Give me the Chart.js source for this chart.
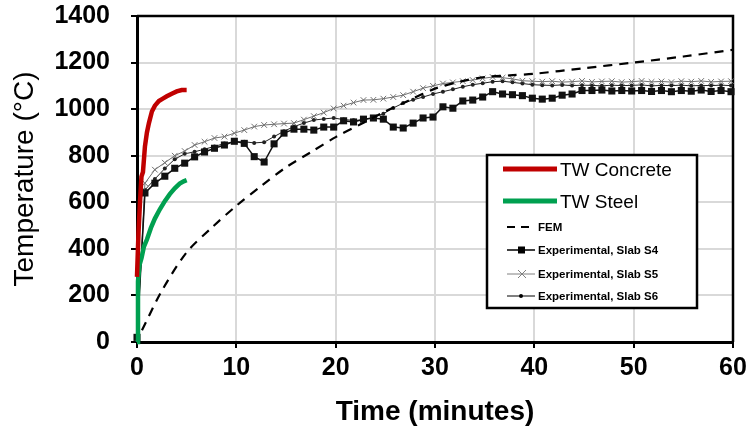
<!DOCTYPE html>
<html>
<head>
<meta charset="utf-8">
<script src="https://cdn.jsdelivr.net/npm/chart.js@4.4.1/dist/chart.umd.min.js"></script>
<style>
  html, body { margin: 0; padding: 0; background: #fff; }
</style>
</head>
<body>
<canvas id="tempChart" width="747" height="429"></canvas>
<script>
// TW curves (minutes, degC)
const concreteTime = [0, 0.15, 0.3, 0.45, 0.6, 0.8, 1.0, 1.2, 1.5, 1.8, 2.2, 2.6, 3.0, 3.5, 4.0, 4.5, 5.0];
const concreteTemp = [280, 470, 600, 710, 730, 840, 900, 940, 990, 1015, 1035, 1045, 1055, 1066, 1076, 1082, 1082];

const steelTime = [0, 0.1, 0.25, 0.45, 0.7, 1.0, 1.4, 1.8, 2.3, 2.8, 3.3, 3.8, 4.3, 4.7, 5.0];
const steelTemp = [0, 260, 330, 360, 410, 440, 490, 530, 570, 605, 635, 660, 680, 690, 695];

// FEM
const femTime = [0.5, 2.5, 5, 7.5, 10, 12.5, 15, 17.5, 20, 22.5, 25, 27.5, 30, 32.5, 35, 37.5, 40, 45, 50, 55, 60];
const femTemp = [50, 220, 385, 490, 585, 670, 750, 815, 880, 935, 990, 1040, 1088, 1118, 1138, 1145, 1152, 1176, 1200, 1226, 1255];

// Experimental slabs, one reading per minute
const expTime = [0, 0.8, 1.8, 2.8, 3.8, 4.8, 5.8, 6.8, 7.8, 8.8, 9.8, 10.8, 11.8, 12.8, 13.8, 14.8, 15.8, 16.8, 17.8, 18.8, 19.8,
  20.8, 21.8, 22.8, 23.8, 24.8, 25.8, 26.8, 27.8, 28.8, 29.8, 30.8, 31.8, 32.8, 33.8, 34.8, 35.8, 36.8, 37.8, 38.8, 39.8,
  40.8, 41.8, 42.8, 43.8, 44.8, 45.8, 46.8, 47.8, 48.8, 49.8, 50.8, 51.8, 52.8, 53.8, 54.8, 55.8, 56.8, 57.8, 58.8, 59.8];

const slabS4 = [20, 640, 682, 712, 746, 768, 795, 816, 832, 846, 862, 853, 796, 773, 851, 897, 914, 914, 910, 923, 923,
  950, 945, 957, 962, 957, 923, 919, 940, 962, 966, 1010, 1004, 1035, 1039, 1052, 1075, 1065, 1062, 1058, 1047,
  1043, 1047, 1060, 1065, 1080, 1080, 1082, 1078, 1080, 1078, 1080, 1076, 1080, 1075, 1080, 1077, 1082, 1076, 1080, 1075];

const slabS5 = [20, 682, 740, 770, 800, 820, 846, 860, 876, 882, 897, 910, 925, 932, 935, 938, 940, 955, 970, 985, 1003,
  1015, 1028, 1039, 1040, 1045, 1052, 1060, 1075, 1090, 1100, 1110, 1115, 1120, 1125, 1132, 1138, 1135, 1130, 1122, 1120,
  1118, 1120, 1116, 1118, 1121, 1117, 1119, 1120, 1116, 1118, 1121, 1117, 1119, 1116, 1120, 1118, 1121, 1117, 1119, 1120];

const slabS6 = [20, 653, 700, 745, 785, 808, 817, 828, 840, 852, 860, 860, 855, 858, 882, 905, 925, 940, 953, 958, 962,
  955, 952, 953, 965, 980, 1005, 1026, 1040, 1052, 1065, 1075, 1085, 1096, 1105, 1111, 1118, 1120, 1115, 1110, 1105,
  1103, 1102, 1104, 1101, 1103, 1102, 1100, 1103, 1101, 1102, 1104, 1100, 1102, 1101, 1103, 1100, 1102, 1101, 1103, 1101];

const xTicks = [0, 10, 20, 30, 40, 50, 60];
const yTicks = [0, 200, 400, 600, 800, 1000, 1200, 1400];

function pts(xs, ys) {
    return xs.map((x, i) => ({ x: x, y: ys[i] }));
}

// frame on top and right of the plot
const frame = {
    id: 'frame',
    beforeDatasetsDraw(chart) {
        const { ctx, chartArea: a } = chart;
        ctx.save();
        ctx.strokeStyle = '#000';
        ctx.lineWidth = 2.5;
        ctx.beginPath();
        ctx.moveTo(a.left, a.top);
        ctx.lineTo(a.right, a.top);
        ctx.lineTo(a.right, a.bottom);
        ctx.stroke();
        ctx.restore();
    }
};

// legend box drawn inside the plot
const legendBox = {
    id: 'legendBox',
    afterDraw(chart) {
        const ctx = chart.ctx;
        ctx.save();
        ctx.fillStyle = '#fff';
        ctx.fillRect(487, 155, 210, 153);
        ctx.strokeStyle = '#000';
        ctx.lineWidth = 2.5;
        ctx.strokeRect(487, 155, 210, 153);

        ctx.textBaseline = 'middle';
        ctx.fillStyle = '#000';

        // TW entries
        ctx.lineWidth = 5;
        ctx.strokeStyle = '#c00000';
        ctx.beginPath(); ctx.moveTo(503, 169); ctx.lineTo(557, 169); ctx.stroke();
        ctx.strokeStyle = '#00a050';
        ctx.beginPath(); ctx.moveTo(503, 201); ctx.lineTo(557, 201); ctx.stroke();
        ctx.font = '19px "Liberation Sans", Arial, sans-serif';
        ctx.fillText('TW Concrete', 560, 171);
        ctx.fillText('TW Steel', 560, 203);

        // small entries
        ctx.font = 'bold 11.5px "Liberation Sans", Arial, sans-serif';
        ctx.lineWidth = 2;
        ctx.strokeStyle = '#000';
        ctx.setLineDash([8, 6]);
        ctx.beginPath(); ctx.moveTo(507, 227); ctx.lineTo(535, 227); ctx.stroke();
        ctx.setLineDash([]);
        ctx.fillText('FEM', 538, 228);

        ctx.lineWidth = 1.5;
        ctx.beginPath(); ctx.moveTo(507, 250); ctx.lineTo(535, 250); ctx.stroke();
        ctx.fillRect(518, 246.5, 7, 7);
        ctx.fillText('Experimental, Slab S4', 538, 251);

        ctx.strokeStyle = '#808080';
        ctx.lineWidth = 1;
        ctx.beginPath(); ctx.moveTo(507, 274); ctx.lineTo(535, 274); ctx.stroke();
        ctx.beginPath();
        ctx.moveTo(518, 270); ctx.lineTo(526, 278);
        ctx.moveTo(526, 270); ctx.lineTo(518, 278);
        ctx.stroke();
        ctx.fillText('Experimental, Slab S5', 538, 275);

        ctx.strokeStyle = '#000';
        ctx.beginPath(); ctx.moveTo(507, 296); ctx.lineTo(535, 296); ctx.stroke();
        ctx.beginPath(); ctx.arc(521, 296, 2, 0, Math.PI * 2); ctx.fill();
        ctx.fillText('Experimental, Slab S6', 538, 297);
        ctx.restore();
    }
};

const tickFont = { family: '"Liberation Sans", Arial, sans-serif', size: 25, weight: 'bold' };

const tempChart = new Chart(document.getElementById('tempChart'), {
    type: 'line',
    data: {
        datasets: [
            {
                label: 'TW Concrete',
                data: pts(concreteTime, concreteTemp),
                borderColor: '#c00000',
                borderWidth: 4.5,
                pointRadius: 0,
                clip: false
            },
            {
                label: 'TW Steel',
                data: pts(steelTime, steelTemp),
                borderColor: '#00a050',
                borderWidth: 4.5,
                pointRadius: 0,
                clip: false
            },
            {
                label: 'FEM',
                data: pts(femTime, femTemp),
                borderColor: '#000',
                borderWidth: 2.2,
                borderDash: [9, 7],
                pointRadius: 0,
                tension: 0.3
            },
            {
                label: 'Experimental, Slab S4',
                data: pts(expTime, slabS4),
                borderColor: '#111',
                borderWidth: 1.5,
                pointStyle: 'rect',
                pointRadius: 5,
                pointBackgroundColor: '#111',
                pointBorderColor: '#111',
                pointBorderWidth: 0,
                clip: false
            },
            {
                label: 'Experimental, Slab S5',
                data: pts(expTime, slabS5),
                borderColor: '#707070',
                borderWidth: 1,
                pointStyle: 'crossRot',
                pointRadius: 4,
                pointBorderColor: '#707070',
                pointBorderWidth: 1,
                clip: false
            },
            {
                label: 'Experimental, Slab S6',
                data: pts(expTime, slabS6),
                borderColor: '#222',
                borderWidth: 1,
                pointStyle: 'circle',
                pointRadius: 2,
                pointBackgroundColor: '#222',
                pointBorderWidth: 0,
                clip: false
            }
        ]
    },
    options: {
        responsive: false,
        animation: false,
        layout: { padding: { top: 16, right: 14, left: 0, bottom: 0 } },
        plugins: { legend: { display: false }, tooltip: { enabled: false } },
        scales: {
            x: {
                type: 'linear',
                min: 0,
                max: 60,
                afterFit: s => { s.height = 87; s.paddingLeft = 0; s.paddingRight = 0; },
                afterBuildTicks: s => { s.ticks = xTicks.map(v => ({ value: v })); },
                grid: { color: '#d9d9d9', lineWidth: 2, tickColor: '#000', tickLength: 6, tickWidth: 2 },
                border: { color: '#000', width: 3 },
                ticks: { color: '#000', font: tickFont, padding: 5, maxRotation: 0, callback: v => String(v) },
                title: {
                    display: true,
                    text: 'Time (minutes)',
                    color: '#000',
                    font: { family: '"Liberation Sans", Arial, sans-serif', size: 28, weight: 'bold' },
                    padding: { top: 0, bottom: 0 }
                }
            },
            y: {
                min: 0,
                max: 1400,
                afterFit: s => { s.width = 137; s.paddingTop = 0; s.paddingBottom = 0; },
                afterBuildTicks: s => { s.ticks = yTicks.map(v => ({ value: v })); },
                grid: { color: '#d9d9d9', lineWidth: 2, tickColor: '#000', tickLength: 6, tickWidth: 2 },
                border: { color: '#000', width: 3 },
                ticks: { color: '#000', font: tickFont, padding: 21, callback: v => String(v) },
                title: {
                    display: true,
                    text: 'Temperature (°C)',
                    color: '#000',
                    font: { family: '"Liberation Sans", Arial, sans-serif', size: 28 },
                    padding: { top: 8, bottom: 0 }
                }
            }
        }
    },
    plugins: [frame, legendBox]
});
</script>
</body>
</html>
